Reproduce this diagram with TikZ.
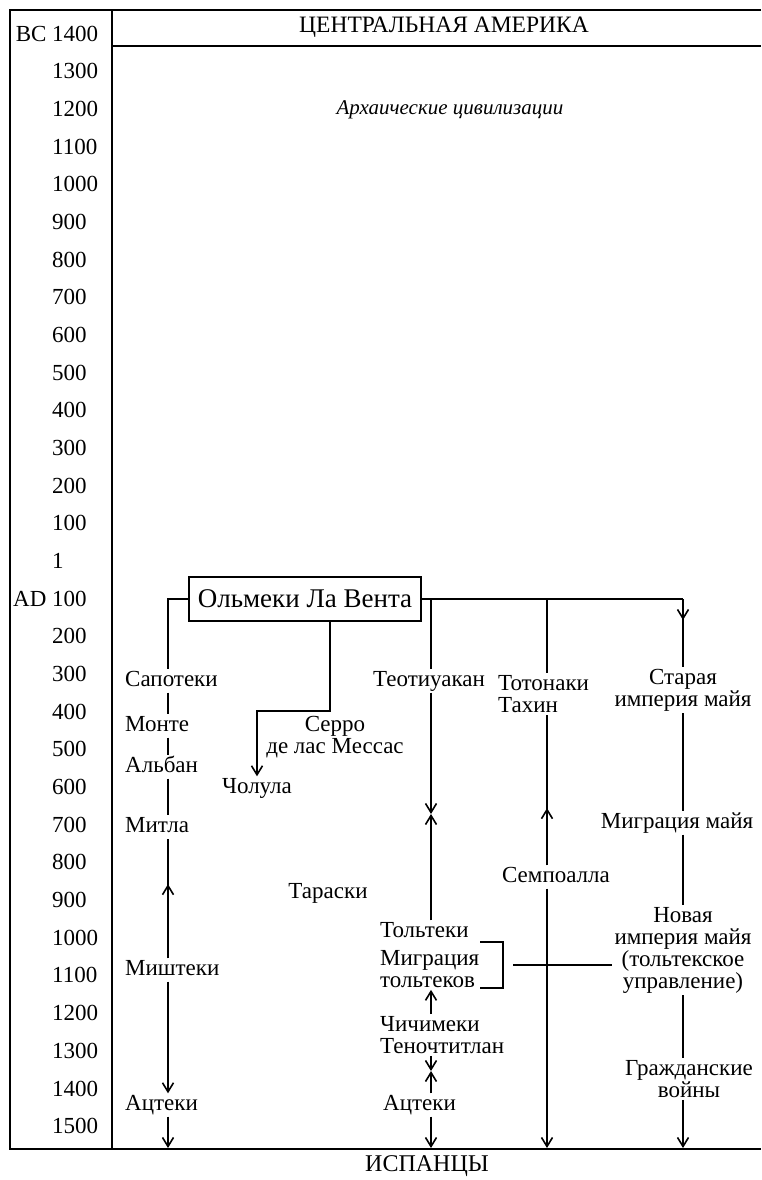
\documentclass[tikz,border=0pt]{standalone}
\usepackage{fontspec}
\setmainfont{Liberation Serif}
\usetikzlibrary{arrows.meta,decorations.markings}
\newcommand\lblfont{\fontsize{23}{22}\selectfont}
\begin{document}
\begin{tikzpicture}[x=1pt,y=-1pt,
  frame/.style={line width=2pt},
  conn/.style={line width=1.6pt},
  tip/.style={-{Straight Barb[length=9pt,width=11pt]}},
  lbl/.style={font=\lblfont, inner sep=2pt, text height=15pt, text depth=4pt},
  mlbl/.style={font=\lblfont, inner sep=2pt, align=center},
  year/.style={font=\lblfont, anchor=west, inner sep=0pt},
  midtip/.style={postaction={decorate}, decoration={markings, mark=at position #1 with {\arrow{Straight Barb[length=9pt,width=11pt]}}}}
]
\useasboundingbox (0,0) rectangle (761,1180);
% frame
\draw[frame] (761,10) -- (10,10) -- (10,1149) -- (761,1149);
\draw[frame] (112,10) -- (112,1149);
\draw[frame] (112,46) -- (761,46);
% years
\foreach \lab [count=\i from 0] in {{\llap{BC\ }1400},1300,1200,1100,1000,900,800,700,600,500,400,300,200,100,1,{\llap{AD\ }100},200,300,400,500,600,700,800,900,1000,1100,1200,1300,1400,1500}
  \node[year] (y\i) at (52,{33.7+37.67*\i}) {\lab};
% titles
\node[font=\fontsize{23.5}{26}\selectfont] (title) at (444,27) {ЦЕНТРАЛЬНАЯ АМЕРИКА};
\node[font=\fontsize{21}{24}\selectfont\itshape] (arch) at (450,110) {Архаические цивилизации};
\node[font=\fontsize{24}{26}\selectfont] (isp) at (427,1166) {ИСПАНЦЫ};
% main box
\node[draw, line width=2pt, font=\fontsize{27}{30}\selectfont, minimum width=232pt, minimum height=44pt, inner sep=2pt] (olm) at (305,599) {Ольмеки Ла Вента};
% column coordinates
\coordinate (cA) at (168,0);
\coordinate (cM) at (330,0);
\coordinate (cT) at (431,0);
\coordinate (cTo) at (547,0);
\coordinate (cMa) at (683,0);
\coordinate (bot) at (0,1148);
% column A
\node[lbl, anchor=west] (sap) at (123,681) {Сапотеки};
\node[lbl, anchor=west] (mon) at (123,726) {Монте};
\node[lbl, anchor=west] (alb) at (123,767) {Альбан};
\node[lbl, anchor=west] (mit) at (123,827) {Митла};
\node[lbl, anchor=west] (mis) at (123,970) {Миштеки};
\node[lbl, anchor=west] (az1) at (123,1105) {Ацтеки};
\draw[conn] (olm.west) -| (sap.north -| cA);
\draw[conn] (sap.south -| cA) -- (mon.north -| cA);
\draw[conn] (mon.south -| cA) -- (alb.north -| cA);
\draw[conn] (alb.south -| cA) -- (mit.north -| cA);
\draw[conn, midtip=0.62] (mis.north -| cA) -- (mit.south -| cA);
\draw[conn, tip] (mis.south -| cA) -- (az1.north -| cA);
\draw[conn, tip] (az1.south -| cA) -- (cA |- bot);
% middle branch
\node[lbl] (chol) at (257,788) {Чолула};
\node[mlbl] (serro) at (335,737) {Серро\\де лас Мессас};
\node[lbl] (tar) at (328,893) {Тараски};
\coordinate (cb) at (330,711);
\draw[conn, tip] (olm.south -| cM) -- (cb) -| (chol.north);
% Teotihuacan column
\draw[conn] (olm.east) -- (olm.east -| cMa);
\node[lbl] (teo) at (429,681) {Теотиуакан};
\node[lbl, anchor=west] (tolt) at (378,932) {Тольтеки};
\node[mlbl, align=left, anchor=west] (mig) at (378,969) {Миграция\\тольтеков};
\node[mlbl, align=left, anchor=west] (chi) at (378,1035) {Чичимеки\\Теночтитлан};
\node[lbl, anchor=west] (az2) at (381,1105) {Ацтеки};
\coordinate (x1) at (431,814);
\coordinate (x2) at (431,1071);
\draw[conn] (olm.east -| cT) -- (teo.north -| cT);
\draw[conn, tip] (teo.south -| cT) -- (x1);
\draw[conn, tip] (tolt.north -| cT) -- (x1);
\draw[conn, tip] (chi.north -| cT) -- (mig.south -| cT);
\draw[conn, tip] (chi.south -| cT) -- (x2);
\draw[conn, tip] (az2.north -| cT) -- (x2);
\draw[conn, tip] (az2.south -| cT) -- (cT |- bot);
\draw[conn] (480,942) -- (503,942) -- (503,988) -- (480,988);
% Totonac column
\node[mlbl, align=left, anchor=west] (tot) at (496,694) {Тотонаки\\Тахин};
\node[lbl] (sem) at (556,877) {Семпоалла};
\draw[conn] (olm.east -| cTo) -- (tot.north -| cTo);
\draw[conn, midtip=0.38] (sem.north -| cTo) -- (tot.south -| cTo);
\draw[conn, tip] (sem.south -| cTo) -- (cTo |- bot);
% Maya column
\node[mlbl] (star) at (683,690) {Старая\\империя майя};
\node[lbl] (mmig) at (677,823) {Миграция майя};
\node[mlbl] (nov) at (683,950) {Новая\\империя майя\\(тольтекское\\управление)};
\node[mlbl] (civ) at (689,1079) {Гражданские\\войны};
\draw[conn, midtip=0.31] (olm.east -| cMa) -- (star.north -| cMa);
\draw[conn] (star.south -| cMa) -- (mmig.north -| cMa);
\draw[conn] (mmig.south -| cMa) -- (nov.north -| cMa);
\draw[conn] (nov.south -| cMa) -- (civ.north -| cMa);
\draw[conn, tip] (civ.south -| cMa) -- (cMa |- bot);
% link Toltec migration to new Maya empire
\coordinate (brk) at (513,965);
\draw[line width=1.2pt] (brk) -- (brk -| nov.west);
\end{tikzpicture}
\end{document}
